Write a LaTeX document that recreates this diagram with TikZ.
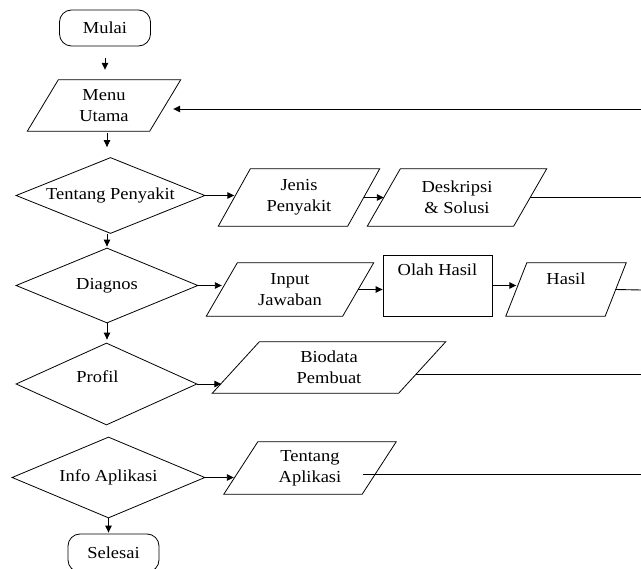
\documentclass[tikz,border=0pt]{standalone}
\usepackage{fontspec}
\setmainfont{Liberation Serif}[FakeStretch=1.1]
\usetikzlibrary{shapes.geometric,arrows.meta,calc}
\tikzset{
  base/.style={font=\fontsize{16.8}{21}\selectfont, align=center, inner sep=2pt},
  term/.style={base, draw, line width=0.8pt, rounded corners=12pt, minimum width=91pt, minimum height=36pt},
  dec/.style={base, draw, line width=0.8pt, diamond, inner sep=0pt},
  io/.style={base, inner sep=0pt},
  outline/.style={draw, line width=0.8pt},
  conn/.style={line width=0.9pt},
  arr/.style={conn, -{Triangle[length=7pt,width=6.5pt]}}
}
\newcommand\paraline[2]{\draw[outline] ([xshift=#2/2]#1.north west) -- ([xshift=#2/2]#1.north east) -- ([xshift=-#2/2]#1.south east) -- ([xshift=-#2/2]#1.south west) -- cycle;}
\begin{document}
\begin{tikzpicture}[x=1pt,y=-1pt]
\useasboundingbox (0,0) rectangle (641,569);
% left column
\node[term] (mulai) at (105,28) {Mulai};
\node[io, minimum width=122pt, minimum height=51pt] (menu) at (104,105.5) {Menu\\Utama};
\paraline{menu}{31pt}
\node[dec, aspect=2.49, minimum width=189pt, minimum height=76pt] (tp) at (110.5,195.5) {Tentang Penyakit};
\node[dec, aspect=2.43, minimum width=182pt, minimum height=75pt] (diag) at (107,285.5) {Diagnos};
\node[dec, aspect=2.2, minimum width=181pt, minimum height=82pt, text depth=14pt] (prof) at (106.5,384) {Profil\hspace*{18pt}};
\node[dec, aspect=2.38, minimum width=193pt, minimum height=81pt] (info) at (108.5,477.5) {Info Aplikasi};
\node[term, minimum height=38pt] (sel) at (113.5,553) {Selesai};
% right side
\node[io, minimum width=129pt, minimum height=57pt] (jenis) at (299,197.5) {Jenis\\Penyakit};
\paraline{jenis}{32pt}
\node[io, minimum width=146pt, minimum height=57pt] (desk) at (457,197.5) {Deskripsi\\\& Solusi};
\paraline{desk}{33pt}
\node[io, minimum width=136pt, minimum height=53pt] (input) at (290,289.5) {Input\\Jawaban};
\paraline{input}{31pt}
\node[base, draw, line width=0.8pt, minimum width=109pt, minimum height=61pt, inner sep=3pt, text height=18pt, text depth=37pt] (olah) at (437.5,285.5) {Olah Hasil};
\node[io, minimum width=99pt, minimum height=53pt, text depth=21pt] (hasil) at (566,289.5) {Hasil};
\paraline{hasil}{21pt}
\node[io, minimum width=186pt, minimum height=51pt] (bio) at (329,367.5) {Biodata\\Pembuat};
\paraline{bio}{47pt}
\node[io, minimum width=138pt, minimum height=52pt] (ta) at (310,468) {Tentang\\Aplikasi};
\paraline{ta}{34pt}
% free ends at the right edge
\coordinate (rmenu) at (641,109);
\coordinate (rdesk) at (641,197.5);
\coordinate (rhasil) at (641,290);
\coordinate (rbio) at (641,374);
\coordinate (rta) at (641,474);
% vertical connectors
\draw[arr, shorten <=12pt, shorten >=10pt] (mulai.south) -- (mulai.south |- menu.north);
\draw[arr, shorten <=2pt, shorten >=10pt] (menu.south -| diag.north) -- (tp.north -| diag.north);
\draw[arr, shorten >=1pt] (tp.south -| diag.north) -- (diag.north);
\draw[arr, shorten >=3pt] (diag.south) -- (diag.south |- prof.north);
\draw[arr, shorten >=1pt] (info.south) -- (info.south |- sel.north);
% horizontal connectors
\draw[arr] (tp.east) -- (tp.east -| jenis.west);
\draw[arr] (jenis.east) -- (desk.west);
\draw[conn] (desk.east) -- (rdesk);
\draw[arr] (diag.east) -- (diag.east -| input.west);
\draw[arr] (input.east) -- (input.east -| olah.west);
\draw[arr] (olah.east) -- (olah.east -| hasil.west);
\draw[conn] (hasil.east) -- (rhasil);
\draw[arr] (prof.east) -- ([xshift=-14.5pt]prof.east -| bio.west);
\draw[conn] ([xshift=-6pt,yshift=-6.5pt]bio.east) -- (rbio);
\draw[arr] (info.east) -- ([xshift=-7pt]info.east -| ta.west);
\draw[conn] ([xshift=-16pt,yshift=-6pt]ta.east) -- (rta);
\draw[arr, shorten >=8pt] (rmenu) -- (rmenu -| menu.east);
\end{tikzpicture}
\end{document}
